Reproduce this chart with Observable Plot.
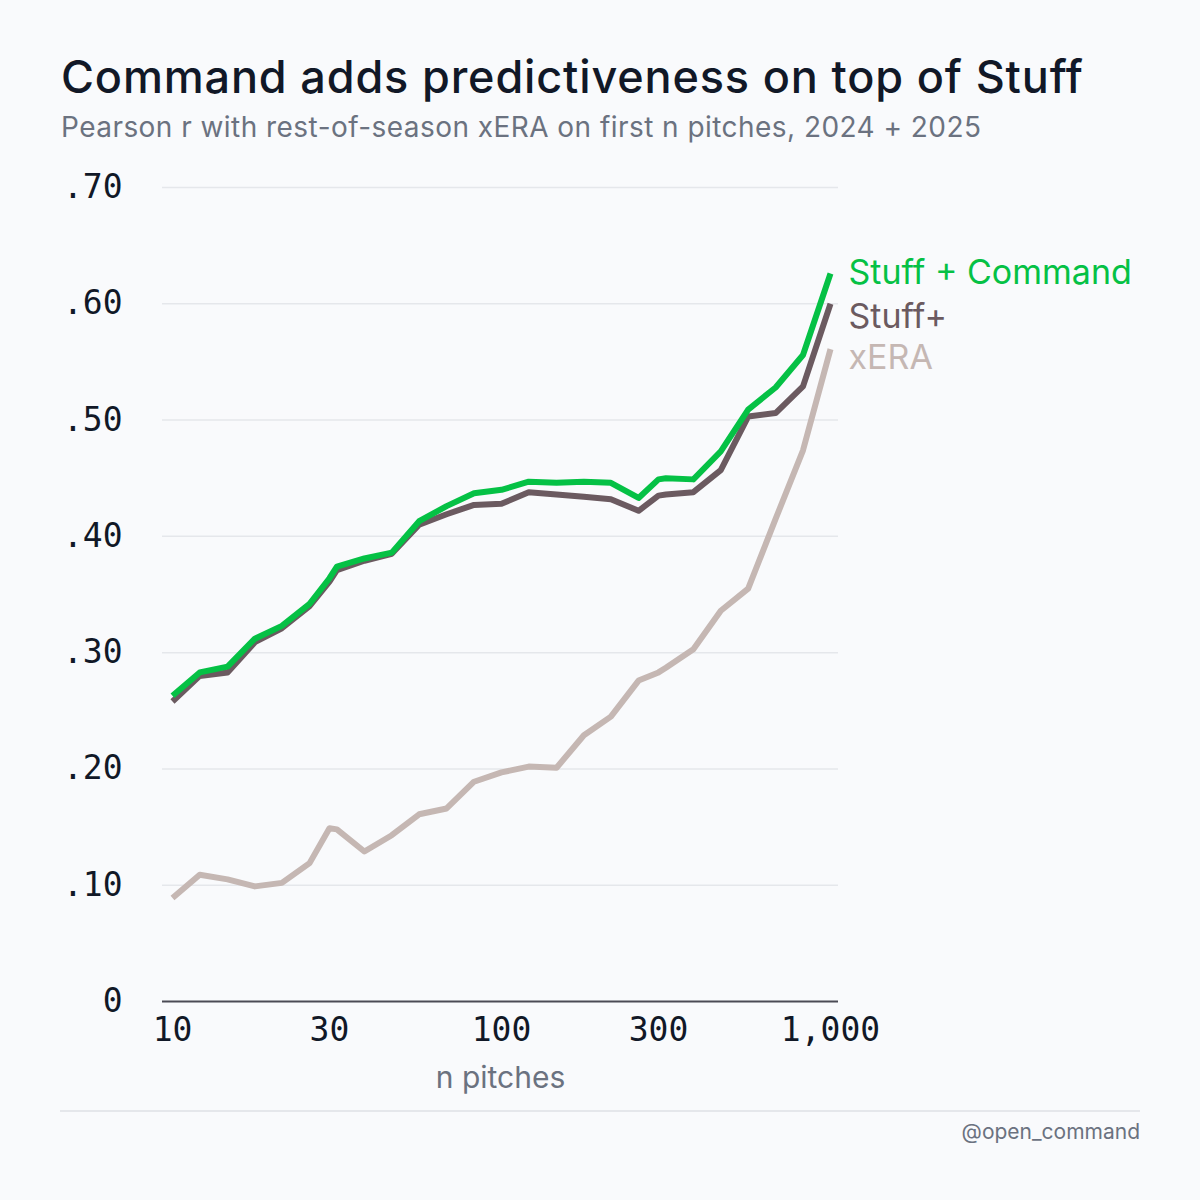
<!DOCTYPE html>
<html>
<head>
<meta charset="utf-8">
<script src="https://cdn.jsdelivr.net/npm/d3@7"></script>
<script src="https://cdn.jsdelivr.net/npm/@observablehq/plot@0.6"></script>
<style>
  html, body { margin: 0; padding: 0; background: #f9fafc; }
  #page { position: relative; width: 1200px; height: 1200px; background: #f9fafc; }
  #head { position: relative; height: 160px; }
  #title { position: absolute; left: 61px; top: 54px; margin: 0; font-family: Inter, "Noto Sans", sans-serif; font-weight: 500; font-size: 45px; line-height: 1; color: #111827; letter-spacing: 0.85px; white-space: nowrap; }
  #subtitle { position: absolute; left: 61px; top: 113px; margin: 0; font-family: Inter, "Noto Sans", sans-serif; font-weight: 400; font-size: 28px; line-height: 1; color: #6b7280; letter-spacing: 0.45px; white-space: nowrap; }
  #chart svg { display: block; }
  #foot { position: relative; margin-left: 60px; width: 1080px; border-top: 2px solid #e5e7eb; height: 60px; }
  #credit { position: absolute; right: 0; top: 7px; font-family: Inter, "Noto Sans", sans-serif; font-size: 21px; color: #6b7280; }
</style>
</head>
<body>
<div id="page">
  <div id="head">
    <div id="title">Command adds predictiveness on top of Stuff</div>
    <div id="subtitle">Pearson r with rest-of-season xERA on first n pitches, 2024 + 2025</div>
  </div>
  <div id="chart"></div>
  <div id="foot"><div id="credit">@open_command</div></div>
</div>
<script>
// number of pitches (x)
const nPitches = [10, 12.1, 14.7, 17.8, 21.5, 26.1, 30, 31.6, 38.3, 46.4, 56.2, 68.1, 82.5, 100, 121, 147, 178, 215, 261, 300, 316, 383, 464, 562, 681, 825, 1000];
// Pearson r series
const stuffCommand = [0.263, 0.283, 0.288, 0.312, 0.323, 0.342, 0.364, 0.374, 0.381, 0.386, 0.413, 0.426, 0.437, 0.440, 0.447, 0.446, 0.447, 0.446, 0.433, 0.449, 0.450, 0.449, 0.473, 0.509, 0.528, 0.556, 0.626];
const stuffPlus    = [0.258, 0.280, 0.283, 0.309, 0.321, 0.340, 0.361, 0.371, 0.379, 0.385, 0.410, 0.419, 0.427, 0.428, 0.438, 0.436, 0.434, 0.432, 0.422, 0.435, 0.436, 0.438, 0.457, 0.503, 0.506, 0.529, 0.600];
const xERA         = [0.089, 0.109, 0.105, 0.099, 0.102, 0.119, 0.149, 0.148, 0.129, 0.143, 0.161, 0.166, 0.189, 0.197, 0.202, 0.201, 0.229, 0.245, 0.276, 0.283, 0.287, 0.303, 0.336, 0.355, 0.415, 0.474, 0.561];
// series names and tick values
const seriesNames = ["xERA", "Stuff+", "Stuff + Command"];
const xTicks = [10, 30, 100, 300, 1000];
const yTicks = [0, 0.1, 0.2, 0.3, 0.4, 0.5, 0.6, 0.7];

// styles
const colors = {"Stuff + Command": "#05c145", "Stuff+": "#6b5a60", "xERA": "#c5b7b3"};
const labelNudge = {"Stuff + Command": 0, "Stuff+": 13, "xERA": 9};

const valuesBySeries = {"Stuff + Command": stuffCommand, "Stuff+": stuffPlus, "xERA": xERA};
const rows = seriesNames.flatMap(s => nPitches.map((n, i) => ({series: s, n, r: valuesBySeries[s][i]})));
const lastIndex = nPitches.length - 1;

const fmtY = d => d === 0 ? "0" : d3.format(".2f")(d).replace(/^0/, "");
const fmtX = d3.format(",");

const sans = "Inter, 'Noto Sans', sans-serif";
const mono = "'DejaVu Sans Mono', monospace";

const endLabels = seriesNames.map(s => Plot.text([{series: s, n: nPitches[lastIndex], r: valuesBySeries[s][lastIndex]}], {
  x: "n", y: "r", text: "series", dx: 18, dy: labelNudge[s], textAnchor: "start", lineAnchor: "middle",
  fill: colors[s], fontSize: 34, fontFamily: sans, letterSpacing: "0.2px"
}));

const chart = Plot.plot({
  width: 1200,
  height: 950,
  marginLeft: 162,
  marginRight: 362,
  marginTop: 27,
  marginBottom: 109,
  style: {background: "transparent", fontFamily: mono, fontSize: "33px", color: "#111827", overflow: "visible"},
  x: {type: "log", domain: [10, 1000], range: [172, 830]},
  y: {domain: [0, 0.7]},
  marks: [
    Plot.ruleY(yTicks.filter(d => d > 0), {stroke: "#e5e7eb", strokeWidth: 1.5}),
    Plot.ruleY([0], {stroke: "#4b4b55", strokeWidth: 2}),
    Plot.axisY({ticks: yTicks, tickFormat: fmtY, tickSize: 0, tickPadding: 40, label: null, fontSize: 33, fontFamily: mono, fill: "#111827"}),
    Plot.axisX({ticks: xTicks, tickFormat: fmtX, tickSize: 0, tickPadding: 16, label: null, fontSize: 33, fontFamily: mono, fill: "#111827"}),
    Plot.text(["n pitches"], {frameAnchor: "bottom", dy: 77, lineAnchor: "middle", fontSize: 30, fontFamily: sans, fill: "#6b7280", letterSpacing: "0.3px"}),
    Plot.line(rows, {x: "n", y: "r", z: "series", stroke: d => colors[d.series], strokeWidth: 6, strokeLinejoin: "round", strokeLinecap: "butt"}),
    ...endLabels
  ]
});
document.getElementById("chart").appendChild(chart);
</script>
</body>
</html>
